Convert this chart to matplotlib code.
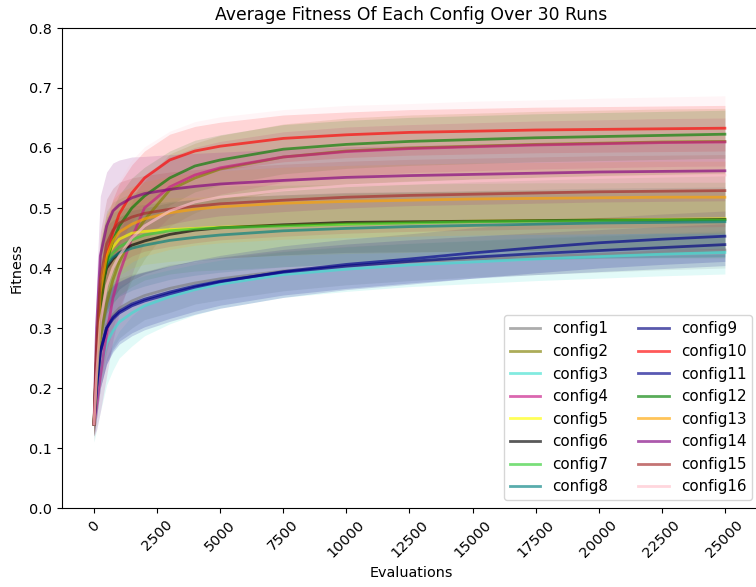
import matplotlib
matplotlib.use("Agg")
import matplotlib.pyplot as plt
import numpy as np

plt.rcParams["font.size"] = 10.35

evaluations = [0, 100, 250, 500, 750, 1000, 1500, 2000, 3000, 4000, 5000,
               7500, 10000, 12500, 15000, 17500, 20000, 22500, 25000]

config_names = [f"config{i}" for i in range(1, 17)]
config_colors = ["gray", "olive", "turquoise", "mediumvioletred", "yellow", "black",
                 "limegreen", "teal", "navy", "red", "darkblue", "green",
                 "orange", "purple", "brown", "pink"]

mean_config1 = [0.14, 0.20, 0.26, 0.305, 0.322, 0.333, 0.345, 0.354, 0.366, 0.375, 0.382, 0.395, 0.404, 0.410, 0.415, 0.419, 0.423, 0.427, 0.430]
mean_config2 = [0.14, 0.20, 0.28, 0.34, 0.38, 0.41, 0.45, 0.48, 0.53, 0.55, 0.565, 0.585, 0.595, 0.600, 0.603, 0.606, 0.608, 0.610, 0.611]
mean_config3 = [0.14, 0.18, 0.23, 0.275, 0.295, 0.31, 0.325, 0.337, 0.352, 0.364, 0.373, 0.389, 0.398, 0.405, 0.410, 0.415, 0.419, 0.423, 0.426]
mean_config4 = [0.14, 0.17, 0.22, 0.29, 0.35, 0.39, 0.45, 0.50, 0.535, 0.555, 0.567, 0.585, 0.594, 0.599, 0.602, 0.605, 0.607, 0.609, 0.610]
mean_config5 = [0.14, 0.27, 0.38, 0.42, 0.435, 0.448, 0.458, 0.461, 0.464, 0.466, 0.468, 0.471, 0.474, 0.476, 0.478, 0.479, 0.480, 0.481, 0.482]
mean_config6 = [0.14, 0.25, 0.36, 0.40, 0.415, 0.425, 0.438, 0.445, 0.456, 0.463, 0.467, 0.472, 0.476, 0.477, 0.478, 0.479, 0.480, 0.480, 0.481]
mean_config7 = [0.14, 0.25, 0.36, 0.41, 0.425, 0.435, 0.447, 0.455, 0.462, 0.465, 0.467, 0.470, 0.473, 0.475, 0.477, 0.478, 0.479, 0.480, 0.480]
mean_config8 = [0.14, 0.25, 0.36, 0.405, 0.418, 0.425, 0.433, 0.438, 0.446, 0.451, 0.455, 0.462, 0.466, 0.469, 0.471, 0.473, 0.475, 0.476, 0.477]
mean_config9 = [0.14, 0.20, 0.26, 0.30, 0.318, 0.328, 0.340, 0.348, 0.360, 0.370, 0.378, 0.393, 0.403, 0.411, 0.418, 0.424, 0.429, 0.434, 0.439]
mean_config10 = [0.14, 0.22, 0.33, 0.42, 0.46, 0.49, 0.525, 0.55, 0.58, 0.595, 0.603, 0.616, 0.622, 0.626, 0.628, 0.630, 0.631, 0.632, 0.633]
mean_config11 = [0.14, 0.20, 0.26, 0.30, 0.315, 0.325, 0.337, 0.345, 0.357, 0.368, 0.377, 0.394, 0.406, 0.415, 0.425, 0.434, 0.442, 0.448, 0.453]
mean_config12 = [0.14, 0.22, 0.33, 0.41, 0.445, 0.47, 0.50, 0.52, 0.55, 0.57, 0.58, 0.598, 0.606, 0.611, 0.614, 0.617, 0.619, 0.621, 0.623]
mean_config13 = [0.14, 0.25, 0.36, 0.42, 0.445, 0.46, 0.473, 0.482, 0.492, 0.498, 0.502, 0.508, 0.511, 0.513, 0.515, 0.516, 0.517, 0.518, 0.518]
mean_config14 = [0.14, 0.30, 0.42, 0.47, 0.495, 0.505, 0.517, 0.524, 0.531, 0.536, 0.540, 0.546, 0.551, 0.554, 0.556, 0.558, 0.560, 0.561, 0.562]
mean_config15 = [0.14, 0.27, 0.38, 0.44, 0.463, 0.475, 0.485, 0.491, 0.498, 0.503, 0.507, 0.513, 0.518, 0.521, 0.523, 0.525, 0.527, 0.528, 0.529]
mean_config16 = [0.14, 0.22, 0.31, 0.37, 0.40, 0.42, 0.45, 0.47, 0.495, 0.51, 0.518, 0.530, 0.537, 0.541, 0.545, 0.548, 0.551, 0.553, 0.555]

std_config1 = [0.03, 0.05, 0.06, 0.06, 0.055, 0.05, 0.045, 0.04, 0.04, 0.035, 0.035, 0.033, 0.032, 0.031, 0.030, 0.030, 0.030, 0.030, 0.030]
std_config2 = [0.02, 0.05, 0.07, 0.08, 0.08, 0.075, 0.07, 0.065, 0.06, 0.058, 0.056, 0.055, 0.055, 0.055, 0.055, 0.055, 0.055, 0.055, 0.055]
std_config3 = [0.03, 0.05, 0.07, 0.07, 0.065, 0.06, 0.055, 0.05, 0.045, 0.042, 0.04, 0.038, 0.037, 0.036, 0.036, 0.036, 0.036, 0.036, 0.036]
std_config4 = [0.02, 0.04, 0.06, 0.07, 0.07, 0.065, 0.06, 0.055, 0.05, 0.046, 0.044, 0.042, 0.041, 0.040, 0.040, 0.040, 0.040, 0.040, 0.040]
std_config5 = [0.02, 0.06, 0.07, 0.07, 0.065, 0.06, 0.058, 0.055, 0.053, 0.052, 0.051, 0.050, 0.050, 0.050, 0.050, 0.050, 0.050, 0.050, 0.050]
std_config6 = [0.02, 0.06, 0.07, 0.07, 0.065, 0.06, 0.058, 0.055, 0.053, 0.052, 0.051, 0.050, 0.050, 0.050, 0.050, 0.050, 0.050, 0.050, 0.050]
std_config7 = [0.02, 0.06, 0.08, 0.085, 0.085, 0.08, 0.078, 0.075, 0.072, 0.07, 0.07, 0.068, 0.066, 0.065, 0.064, 0.064, 0.063, 0.063, 0.063]
std_config8 = [0.02, 0.06, 0.08, 0.08, 0.075, 0.072, 0.07, 0.068, 0.065, 0.063, 0.062, 0.06, 0.059, 0.058, 0.058, 0.058, 0.058, 0.058, 0.058]
std_config9 = [0.02, 0.05, 0.06, 0.06, 0.055, 0.05, 0.048, 0.046, 0.044, 0.042, 0.04, 0.038, 0.037, 0.036, 0.035, 0.035, 0.035, 0.035, 0.035]
std_config10 = [0.02, 0.05, 0.06, 0.06, 0.055, 0.05, 0.047, 0.045, 0.043, 0.041, 0.04, 0.039, 0.038, 0.038, 0.038, 0.038, 0.038, 0.038, 0.038]
std_config11 = [0.02, 0.05, 0.06, 0.06, 0.055, 0.052, 0.05, 0.048, 0.046, 0.045, 0.044, 0.043, 0.042, 0.042, 0.042, 0.042, 0.042, 0.042, 0.042]
std_config12 = [0.02, 0.05, 0.06, 0.06, 0.055, 0.052, 0.05, 0.048, 0.045, 0.043, 0.042, 0.041, 0.040, 0.040, 0.040, 0.040, 0.040, 0.040, 0.040]
std_config13 = [0.02, 0.06, 0.07, 0.07, 0.068, 0.065, 0.063, 0.062, 0.061, 0.06, 0.06, 0.06, 0.06, 0.06, 0.06, 0.06, 0.06, 0.06, 0.06]
std_config14 = [0.02, 0.08, 0.10, 0.09, 0.08, 0.075, 0.068, 0.062, 0.058, 0.055, 0.053, 0.052, 0.051, 0.050, 0.050, 0.050, 0.050, 0.050, 0.050]
std_config15 = [0.02, 0.07, 0.08, 0.075, 0.07, 0.068, 0.065, 0.063, 0.062, 0.061, 0.06, 0.06, 0.06, 0.06, 0.06, 0.06, 0.06, 0.06, 0.06]
std_config16 = [0.02, 0.08, 0.11, 0.12, 0.125, 0.125, 0.13, 0.132, 0.133, 0.134, 0.134, 0.134, 0.134, 0.133, 0.133, 0.132, 0.132, 0.132, 0.132]

means = [mean_config1, mean_config2, mean_config3, mean_config4, mean_config5, mean_config6,
         mean_config7, mean_config8, mean_config9, mean_config10, mean_config11, mean_config12,
         mean_config13, mean_config14, mean_config15, mean_config16]
stds = [std_config1, std_config2, std_config3, std_config4, std_config5, std_config6,
        std_config7, std_config8, std_config9, std_config10, std_config11, std_config12,
        std_config13, std_config14, std_config15, std_config16]

fig = plt.figure(figsize=(7.56, 5.87), dpi=100)
ax = fig.add_axes([62/756, 79/587, (760-62)/756, (508-28)/587])

x = np.array(evaluations)
for name, color, m, s in zip(config_names, config_colors, means, stds):
    m = np.array(m)
    s = np.array(s)
    ax.fill_between(x, m - s, m + s, color=color, alpha=0.15, linewidth=0)
    ax.plot(x, m, color=color, alpha=0.65, linewidth=2, label=name)

ax.set_xlim(-1268, 26390)
ax.set_ylim(0, 0.8)
ax.set_xticks(np.arange(0, 25001, 2500))
ax.tick_params(axis="x", labelrotation=45)
ax.set_xlabel("Evaluations")
ax.set_ylabel("Fitness")
ax.set_title("Average Fitness Of Each Config Over 30 Runs", fontsize=12.4)
ax.legend(loc="lower right", ncol=2, fontsize=10.9)

fig.savefig("out.png", dpi=100)
